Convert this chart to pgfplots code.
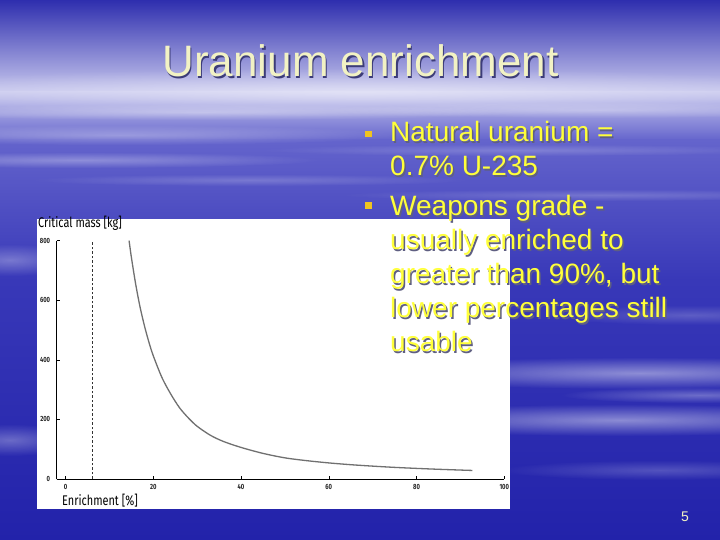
\documentclass[border=0pt]{standalone}
\usepackage{fontspec}
\usepackage{graphicx}
\usepackage{pgfplots}
\pgfplotsset{compat=1.18}
\usetikzlibrary{fadings}
\setmainfont{Liberation Sans}
\newfontfamily\chartfont[FakeStretch=0.78]{Fira Sans}
\definecolor{bgA}{RGB}{46,46,174}
\definecolor{bgB}{RGB}{200,200,238}
\definecolor{bgC}{RGB}{100,100,204}
\definecolor{bgD}{RGB}{56,56,184}
\definecolor{bgE}{RGB}{34,34,170}
\definecolor{titlecol}{RGB}{242,242,196}
\definecolor{titleshadow}{RGB}{60,60,120}
\definecolor{txtyellow}{RGB}{255,255,58}
\definecolor{txtshadow}{RGB}{95,95,130}
\definecolor{bulletcol}{RGB}{240,196,32}
\definecolor{curvecol}{RGB}{112,112,112}
\tikzfading[name=softglow, inner color=transparent!0, outer color=transparent!100]
\newcommand{\shadowtext}[3]{\rlap{\hspace{#1}\raisebox{-#1}{\color{#2}#3}}#3}
\begin{document}
\begin{tikzpicture}[x=1pt,y=1pt]
% ---------- slide background ----------
\shade[top color=bgA,bottom color=bgB] (0,540) rectangle (720,447.5);
\shade[top color=bgB,bottom color=bgC] (0,448) rectangle (720,399.5);
\shade[top color=bgC,bottom color=bgD] (0,400) rectangle (720,259.5);
\shade[top color=bgD,bottom color=bgE] (0,260) rectangle (720,0);
% soft light streaks (pixel x, pixel y from top, radii, opacity)
\foreach \cx/\py/\rx/\ry/\op in {
  360/92/520/24/0.45, 200/112/320/8/0.35, 600/110/280/8/0.3,
  120/135/280/10/0.3, 80/160/240/8/0.3, 250/180/220/6/0.2,
  520/150/260/6/0.2, 600/195/260/6/0.2,
  640/373/280/16/0.45, 620/420/280/16/0.45, 700/395/140/8/0.3,
  10/260/70/16/0.3, 10/440/70/16/0.3, 690/315/140/10/0.2, 660/470/160/10/0.2}{
  \fill[white, fill opacity=\op, path fading=softglow]
    (\cx,540-\py) ellipse ({\rx} and {\ry});
}
% ---------- chart panel ----------
\fill[white] (37,31) rectangle (510,321);
\begin{axis}[
  at={(56.7pt,61pt)}, anchor=south west,
  scale only axis, width=447.6pt, height=238.3pt,
  xmin=-2, xmax=100, ymin=0, ymax=800,
  axis x line*=bottom, axis y line*=left,
  axis line style={-, black, line width=0.6pt},
  xtick={0,20,40,60,80,100}, ytick={0,200,400,600,800},
  tick align=inside, major tick length=3pt,
  tick style={black, line width=0.5pt},
  /pgf/number format/assume math mode=true,
  ticklabel style={font=\chartfont\bfseries\fontsize{7.5}{8}\selectfont, text=black!85},
  xticklabel style={yshift=-2pt},
  yticklabel style={xshift=-3pt},
  clip=false,
]
\addplot[black!80, line width=0.6pt, dash pattern=on 2.5pt off 2pt] coordinates {(6,0) (6,800)};
\addplot[curvecol, line width=1.3pt, smooth] coordinates {
  (14.5,800) (15,746) (16,654) (17,577) (18,514) (19,460) (20,414)
  (22,340) (24,285) (26,239) (28,205) (30,177) (33,147) (36,126)
  (40,106) (45,86) (50,71) (55,61.5) (60,54) (65,48) (70,43.2)
  (75,39) (80,35.6) (85,32.6) (90,30) (92.7,28.7)};
\end{axis}
\node[anchor=base west, inner sep=0, font=\chartfont\fontsize{14}{15}\selectfont] at (38,312.5) {Critical mass [kg]};
\node[anchor=base west, inner sep=0, font=\chartfont\fontsize{14}{15}\selectfont] at (62,34) {Enrichment [\%]};
% ---------- title ----------
\node[anchor=base, inner sep=0, font=\fontsize{44}{50}\selectfont, text=titlecol] at (360.5,463.3)
  {\shadowtext{1.5pt}{titleshadow}{Uranium enrichment}};
% ---------- bullets ----------
\fill[bulletcol] (365,402.5) rectangle (371.5,409);
\fill[bulletcol] (365,331) rectangle (371.5,337.5);
\foreach \t/\yy in {Natural uranium =/398.3, 0.7\% U-235/364, Weapons grade -/324,
  usually enriched to/290, {greater than 90\%, but}/256, lower percentages still/222, usable/188}{
  \node[anchor=base west, inner sep=0, font=\fontsize{28}{34}\selectfont, text=txtyellow] at (390,\yy)
    {\shadowtext{1.5pt}{txtshadow}{\t}};
}
% ---------- page number ----------
\node[anchor=base, inner sep=0, font=\fontsize{14}{16}\selectfont, text=titlecol] at (685,18) {5};
\pgfresetboundingbox
\path[use as bounding box] (0,0) rectangle (720,540);
\end{tikzpicture}
\end{document}
